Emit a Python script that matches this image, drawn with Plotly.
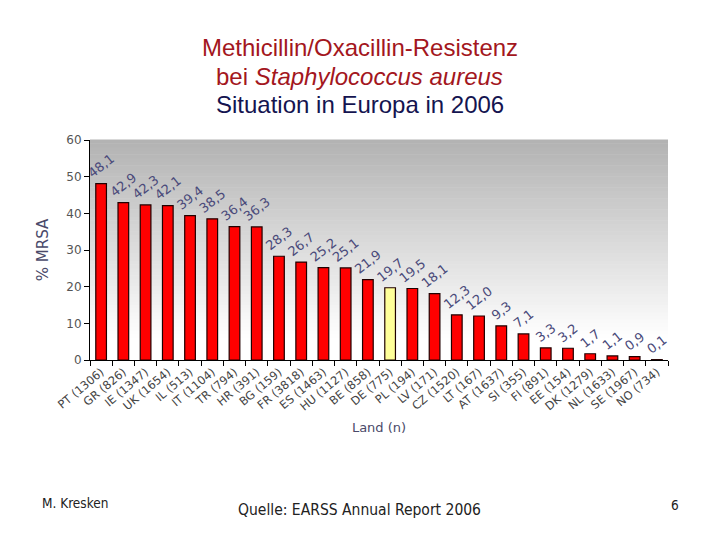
import plotly.graph_objects as go

countries = ["PT (1306)", "GR (826)", "IE (1347)", "UK (1654)", "IL (513)", "IT (1104)",
             "TR (794)", "HR (391)", "BG (159)", "FR (3818)", "ES (1463)", "HU (1127)",
             "BE (858)", "DE (775)", "PL (194)", "LV (171)", "CZ (1520)", "LT (167)",
             "AT (1637)", "SI (355)", "FI (891)", "EE (154)", "DK (1279)", "NL (1633)",
             "SE (1967)", "NO (734)"]
mrsa = [48.1, 42.9, 42.3, 42.1, 39.4, 38.5, 36.4, 36.3, 28.3, 26.7, 25.2, 25.1,
        21.9, 19.7, 19.5, 18.1, 12.3, 12.0, 9.3, 7.1, 3.3, 3.2, 1.7, 1.1, 0.9, 0.1]
highlight = "DE (775)"

colors = ["#ffff99" if c == highlight else "#ff0000" for c in countries]
labels = [f"{v:.1f}".replace(".", ",") for v in mrsa]

fig = go.Figure()

fig.add_trace(go.Bar(
    x=countries, y=mrsa,
    marker=dict(color=colors, line=dict(color="#200000", width=1.2)),
    width=0.48,
    text=labels, textposition="outside", textangle=-38,
    constraintext="none", cliponaxis=False,
    textfont=dict(family="DejaVu Sans", size=13, color="#4a4a7a"),
    showlegend=False))

# vertical gradient background (grey top -> white bottom) as thin bands
n_bands = 60
for i in range(n_bands):
    t = (i + 0.5) / n_bands  # 0 bottom, 1 top
    g = 255 if t < 0.1 else int(round(255 - (255 - 178) * (t - 0.1) / 0.9))
    fig.add_shape(type="rect", xref="paper", yref="paper",
                  x0=0, x1=1, y0=i / n_bands, y1=(i + 1) / n_bands + 0.002,
                  fillcolor=f"rgb({g},{g},{g})", line=dict(width=0), layer="below")

fig.update_layout(
    width=704, height=524,
    paper_bgcolor="white", plot_bgcolor="white",
    margin=dict(l=82, r=44, t=132, b=172),
    font=dict(family="DejaVu Sans", color="#333333"),
    xaxis=dict(
        type="category", categoryorder="array", categoryarray=countries,
        tickson="boundaries",
        tickangle=-40, tickfont=dict(size=11.5, color="#444444"),
        showline=True, linecolor="black", linewidth=1,
        ticks="outside", ticklen=5, tickcolor="black",
        showgrid=False, zeroline=False,
        title=dict(text="Land (n)", font=dict(size=13, color="#4a4a6a"), standoff=10),
    ),
    yaxis=dict(
        range=[0, 60], tickvals=[0, 10, 20, 30, 40, 50, 60],
        tickfont=dict(size=12, color="#555555"),
        showline=True, linecolor="black", linewidth=1,
        ticks="outside", ticklen=5, tickcolor="black",
        showgrid=False, zeroline=False,
        title=dict(text="% MRSA", font=dict(size=15, color="#4a4a6a"), standoff=14),
    ),
)

title_font = dict(family="Liberation Sans", size=24)
fig.add_annotation(xref="paper", yref="paper", x=0.467, y=1, xanchor="center", yanchor="middle",
                   text="Methicillin/Oxacillin-Resistenz", showarrow=False,
                   font=dict(color="#a31620", **title_font), yshift=93)
fig.add_annotation(xref="paper", yref="paper", x=0.467, y=1, xanchor="center", yanchor="middle",
                   text="bei <i>Staphylococcus aureus</i>", showarrow=False,
                   font=dict(color="#a31620", **title_font), yshift=64)
fig.add_annotation(xref="paper", yref="paper", x=0.467, y=1, xanchor="center", yanchor="middle",
                   text="Situation in Europa in 2006", showarrow=False,
                   font=dict(color="#141450", **title_font), yshift=36)

fig.add_annotation(xref="paper", yref="paper", x=-0.0865, y=0, xanchor="left", yanchor="middle",
                   text="M. Kresken", showarrow=False,
                   font=dict(family="DejaVu Sans Condensed", size=13.5, color="#222222"),
                   yshift=-143)
fig.add_annotation(xref="paper", yref="paper", x=0.467, y=0, xanchor="center", yanchor="middle",
                   text="Quelle: EARSS Annual Report 2006", showarrow=False,
                   font=dict(family="DejaVu Sans Condensed", size=15.5, color="#222222"),
                   yshift=-150)
fig.add_annotation(xref="paper", yref="paper", x=1.0225, y=0, xanchor="right", yanchor="middle",
                   text="6", showarrow=False,
                   font=dict(family="DejaVu Sans Condensed", size=13.5, color="#222222"),
                   yshift=-145)

fig.write_html("out.html")
